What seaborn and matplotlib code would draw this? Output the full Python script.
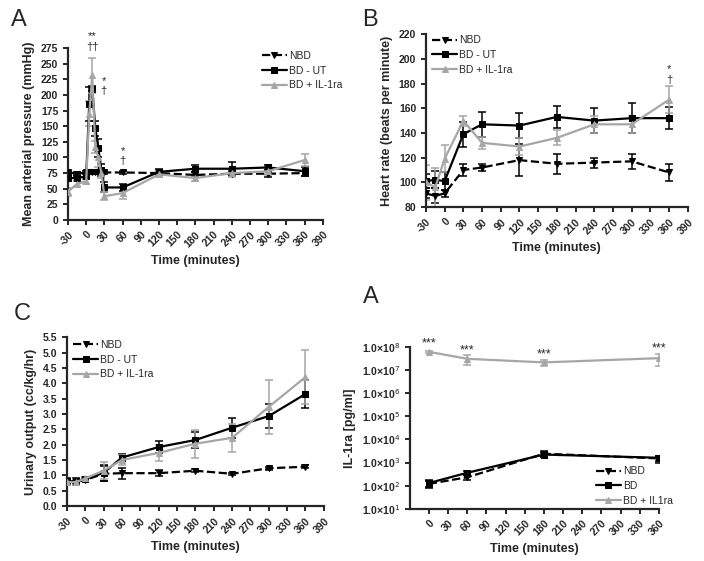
import numpy as np
import matplotlib
matplotlib.use('Agg')
import matplotlib.pyplot as plt
import seaborn as sns

sns.set_style('ticks')
plt.rcParams['font.family'] = ['Liberation Sans', 'DejaVu Sans']
plt.rcParams['axes.unicode_minus'] = False
plt.rcParams['axes.linewidth'] = 1.6
plt.rcParams['xtick.major.width'] = 1.4
plt.rcParams['ytick.major.width'] = 1.4
plt.rcParams['xtick.major.size'] = 3.5
plt.rcParams['ytick.major.size'] = 3.5

# ---- panel A: mean arterial pressure
t_map = [-30, -15, 0, 5, 10, 15, 20, 25, 30, 60, 120, 180, 240, 300, 360]
map_nbd = [76, 74, 76, 76, 77, 76, 76, 76, 76, 76, 75, 72, 74, 74, 75]
map_nbd_err = [3, 3, 3, 3, 3, 3, 3, 3, 3, 3, 3, 4, 4, 6, 4]
map_ut = [67, 67, 70, 186, 210, 147, 115, 80, 52, 52, 77, 82, 82, 84, 78]
map_ut_err = [5, 5, 5, 27, 4, 12, 15, 10, 8, 6, 5, 6, 10, 4, 7]
map_il = [45, 58, 62, 170, 232, 117, 100, 75, 38, 43, 73, 67, 75, 78, 96]
map_il_err = [6, 4, 4, 20, 28, 10, 15, 8, 6, 10, 5, 4, 7, 6, 10]

# ---- panel B: heart rate
t_hr = [-30, -15, 0, 30, 60, 120, 180, 240, 300, 360]
hr_nbd = [91, 89, 91, 110, 112, 118, 115, 116, 117, 108]
hr_nbd_err = [4, 6, 3, 5, 3, 13, 8, 4, 6, 7]
hr_ut = [101, 102, 101, 139, 147, 146, 153, 150, 152, 152]
hr_ut_err = [6, 7, 7, 10, 10, 10, 9, 10, 12, 9]
hr_il = [100, 96, 119, 150, 132, 129, 136, 147, 147, 167]
hr_il_err = [14, 16, 11, 4, 5, 7, 6, 7, 7, 11]

# ---- panel C: urinary output
t_uo = [-30, -15, 0, 30, 60, 120, 180, 240, 300, 360]
uo_nbd = [0.80, 0.80, 0.85, 1.05, 1.07, 1.07, 1.15, 1.05, 1.23, 1.28]
uo_nbd_err = [0.05, 0.05, 0.03, 0.25, 0.18, 0.10, 0.05, 0.03, 0.05, 0.05]
uo_ut = [0.80, 0.80, 0.88, 1.08, 1.58, 1.92, 2.15, 2.55, 2.93, 3.65]
uo_ut_err = [0.10, 0.10, 0.05, 0.25, 0.10, 0.20, 0.25, 0.33, 0.40, 0.47]
uo_il = [0.78, 0.78, 0.90, 1.15, 1.50, 1.73, 2.03, 2.22, 3.23, 4.20]
uo_il_err = [0.10, 0.10, 0.05, 0.28, 0.15, 0.25, 0.45, 0.45, 0.88, 0.88]

# ---- panel D: IL-1ra levels
t_il = [0, 60, 180, 360]
il_nbd = [1.2e2, 2.3e2, 2.4e3, 1.5e3]
il_nbd_err = [4e1, 5e1, 6e2, 5e2]
il_bd = [1.3e2, 3.6e2, 2.2e3, 1.6e3]
il_bd_err = [4e1, 8e1, 5e2, 4e2]
il_il = [6.0e7, 3.0e7, 2.1e7, 3.2e7]
il_il_err = [5e6, 1.3e7, 6e6, 1.8e7]

BLACK = 'black'
GREY = '#a6a6a6'


def draw_series(ax, x, y, err, color, marker, ls, label, ms=5):
    ax.errorbar(x, y, yerr=err, fmt='none', ecolor=color, elinewidth=1.1,
                capsize=3, capthick=1.1, zorder=2)
    sns.lineplot(x=x, y=y, ax=ax, color=color, marker=marker, linestyle=ls,
                 linewidth=1.6, markersize=ms, markeredgecolor=color,
                 label=label, zorder=3)


def style_axis(ax, xlabel, ylabel):
    sns.despine(ax=ax)
    ax.set_xlabel(xlabel, fontsize=9, fontweight='bold')
    ax.set_ylabel(ylabel, fontsize=9, fontweight='bold')
    for lab in ax.get_xticklabels() + ax.get_yticklabels():
        lab.set_fontweight('bold')
        lab.set_fontsize(7.5)
    plt.setp(ax.get_xticklabels(), rotation=45, ha='right', rotation_mode='anchor')


def style_legend(ax, loc, labels_bbox=None):
    kw = dict(loc=loc, frameon=False, fontsize=7.5, handlelength=2.4,
              handletextpad=0.2, labelspacing=0.45, borderaxespad=0.2)
    if labels_bbox is not None:
        kw['bbox_to_anchor'] = labels_bbox
    ax.legend(**kw)


fig = plt.figure(figsize=(7.04, 5.61), dpi=100)

# panel A
axA = fig.add_axes([0.0966, 0.608, 0.362, 0.306])
draw_series(axA, t_map, map_nbd, map_nbd_err, BLACK, 'v', '--', 'NBD')
draw_series(axA, t_map, map_ut, map_ut_err, BLACK, 's', '-', 'BD - UT')
draw_series(axA, t_map, map_il, map_il_err, GREY, '^', '-', 'BD + IL-1ra')
axA.set_xlim(-30, 390)
axA.set_ylim(0, 275)
axA.set_xticks(np.arange(-30, 391, 30))
axA.set_yticks(np.arange(0, 276, 25))
style_axis(axA, 'Time (minutes)', 'Mean arterial pressure (mmHg)')
style_legend(axA, 'upper right', (1.1, 1.02))
axA.text(10, 294, '**', ha='center', va='center', fontsize=8, clip_on=False)
axA.text(10, 277, '††', ha='center', va='center', fontsize=8, clip_on=False)
axA.text(29, 222, '*', ha='center', va='center', fontsize=8)
axA.text(29, 206, '†', ha='center', va='center', fontsize=8)
axA.text(60, 110, '*', ha='center', va='center', fontsize=8)
axA.text(60, 95, '†', ha='center', va='center', fontsize=8)

# panel B
axB = fig.add_axes([0.605, 0.631, 0.372, 0.308])
draw_series(axB, t_hr, hr_nbd, hr_nbd_err, BLACK, 'v', '--', 'NBD')
draw_series(axB, t_hr, hr_ut, hr_ut_err, BLACK, 's', '-', 'BD - UT')
draw_series(axB, t_hr, hr_il, hr_il_err, GREY, '^', '-', 'BD + IL-1ra')
axB.set_xlim(-30, 390)
axB.set_ylim(80, 220)
axB.set_xticks(np.arange(-30, 391, 30))
axB.set_yticks(np.arange(80, 221, 20))
style_axis(axB, 'Time (minutes)', 'Heart rate (beats per minute)')
style_legend(axB, 'upper left', (0.0, 1.03))
axB.text(360, 192, '*', ha='center', va='center', fontsize=8)
axB.text(360, 183, '†', ha='center', va='center', fontsize=8)

# panel C
axC = fig.add_axes([0.095, 0.098, 0.365, 0.301])
draw_series(axC, t_uo, uo_nbd, uo_nbd_err, BLACK, 'v', '--', 'NBD')
draw_series(axC, t_uo, uo_ut, uo_ut_err, BLACK, 's', '-', 'BD - UT')
draw_series(axC, t_uo, uo_il, uo_il_err, GREY, '^', '-', 'BD + IL-1ra')
axC.set_xlim(-30, 390)
axC.set_ylim(0, 5.5)
axC.set_xticks(np.arange(-30, 391, 30))
axC.set_yticks(np.arange(0, 5.51, 0.5))
axC.yaxis.set_major_formatter(matplotlib.ticker.FormatStrFormatter('%.1f'))
style_axis(axC, 'Time (minutes)', 'Urinary output (cc/kg/hr)')
style_legend(axC, 'upper left', (0.0, 1.02))

# panel D
axD = fig.add_axes([0.582, 0.093, 0.354, 0.289])
draw_series(axD, t_il, il_nbd, il_nbd_err, BLACK, 'v', '--', 'NBD')
draw_series(axD, t_il, il_bd, il_bd_err, BLACK, 's', '-', 'BD')
draw_series(axD, t_il, il_il, il_il_err, GREY, '^', '-', 'BD + IL1ra')
axD.set_yscale('log')
axD.set_xlim(-30, 360)
axD.set_ylim(1e1, 1e8)
axD.set_xticks(np.arange(0, 361, 30))
yexp = [1, 2, 3, 4, 5, 6, 7, 8]
axD.set_yticks([10.0 ** e for e in yexp])
axD.set_yticklabels([r'1.0×10$^{%d}$' % e for e in yexp])
axD.minorticks_off()
style_axis(axD, 'Time (minutes)', 'IL-1ra [pg/ml]')
style_legend(axD, 'lower right', (1.08, -0.02))
for tx, ty in [(0, 1.35e8), (60, 6.7e7), (180, 4.5e7), (360, 8.2e7)]:
    axD.text(tx, ty, '***', ha='center', va='center', fontsize=9, clip_on=False)

# panel letters
fig.text(0.015, 0.965, 'A', fontsize=17, va='center')
fig.text(0.515, 0.965, 'B', fontsize=17, va='center')
fig.text(0.02, 0.44, 'C', fontsize=17, va='center')
fig.text(0.515, 0.47, 'A', fontsize=17, va='center')

fig.savefig('out.png', dpi=100)
